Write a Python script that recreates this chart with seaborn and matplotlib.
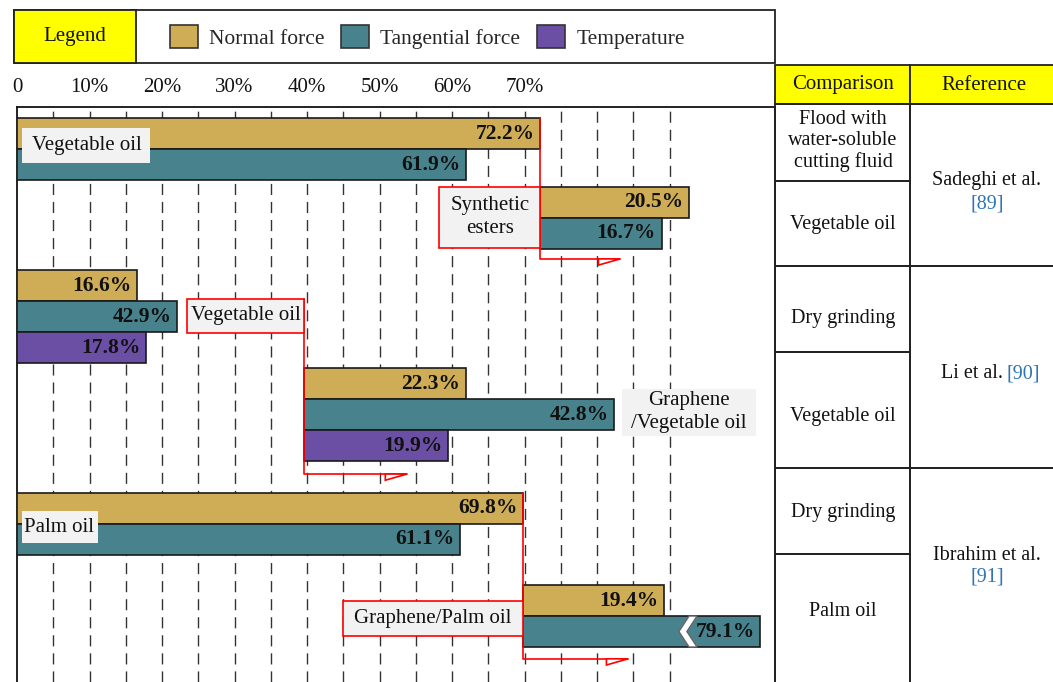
import matplotlib
matplotlib.use("Agg")
import matplotlib.pyplot as plt
from matplotlib.patches import Patch, Rectangle, Polygon
import numpy as np
import seaborn as sns

# ---- data (top to bottom, as in the figure) ----
series = ["Normal force", "Tangential force", "Normal force", "Tangential force",
          "Normal force", "Tangential force", "Temperature",
          "Normal force", "Tangential force", "Temperature",
          "Normal force", "Tangential force", "Normal force", "Tangential force"]
values = [72.2, 61.9, 20.5, 16.7, 16.6, 42.9, 17.8, 22.3, 42.8, 19.9, 69.8, 61.1, 19.4, 79.1]
# bar lengths as drawn: 42.9% is drawn short, 79.1% is a broken bar
drawn = list(values)
drawn[5] = 22.1
drawn[13] = 32.7
# the improved case starts where the baseline bar stops
starts = [0, 0, 72.2, 72.2, 0, 0, 0, 39.6, 39.6, 39.6, 0, 0, 69.8, 69.8]

tick_labels = ["0", "10%", "20%", "30%", "40%", "50%", "60%", "70%"]
comparison = ["Flood with\nwater-soluble\ncutting fluid", "Vegetable oil", "Dry grinding",
              "Vegetable oil", "Dry grinding", "Palm oil"]
ref_names = ["Sadeghi et al.", "Li et al.", "Ibrahim et al."]
ref_nums = ["[89]", "[90]", "[91]"]

palette = {"Normal force": "#CFAD56", "Tangential force": "#48828C", "Temperature": "#6A4FA5"}

sns.set_theme(style="white")
plt.rcParams['font.family'] = ['Liberation Serif', 'DejaVu Serif']

W, H = 1053, 682
fig = plt.figure(figsize=(W / 100, H / 100), dpi=100)

# main bar axes: 7.25 px per percent, 31 px per bar slot
ppp = 7.25
ax = fig.add_axes([17 / W, 0, (775 - 17) / W, (H - 107) / H])
ax.set_xlim(0, (775 - 17) / ppp)
ax.set_ylim((H - 107) / 31, 0)

rows = [0.86, 1.86, 3.08, 4.08, 5.76, 6.76, 7.76, 8.92, 9.92, 10.92, 12.95, 13.95, 15.92, 16.92]
colors = [palette[s] for s in series]
bars = ax.barh(rows, drawn, left=starts, height=1.0, color=colors,
               edgecolor="#1a1a1a", linewidth=1.2, zorder=3)
anns = ax.bar_label(bars, labels=[f"{v}%" for v in values], padding=-4,
                    fontsize=15.5, fontweight="bold", color="#111", zorder=6)
for a in anns:
    a.set_ha("right")

# axis / grid
ax.set_xticks(np.arange(0, 80, 10))
ax.set_xticklabels(tick_labels)
ax.set_xticks(np.arange(5, 95, 5), minor=True)
ax.xaxis.remove_overlapping_locs = False
ax.xaxis.tick_top()
ax.tick_params(axis="x", which="both", length=0, pad=7, labelsize=15, labelcolor="#111")
ax.set_yticks([])
ax.grid(True, which="minor", axis="x", color="#333", lw=1.0, ls=(0, (8, 5)), zorder=0)
for s in ["top", "left", "right"]:
    ax.spines[s].set_color("#111")
    ax.spines[s].set_linewidth(1.3)
ax.spines["bottom"].set_visible(False)


def box(x0, x1, y0, y1, text, red, tx, ty, ha="center"):
    ax.add_patch(Rectangle((x0, y0), x1 - x0, y1 - y0, fc="#F2F2F2",
                           ec="red" if red else "none", lw=1.2, zorder=5))
    ax.text(tx, ty, text, ha=ha, va="center", fontsize=15, linespacing=1.3,
            color="#111", zorder=6)


def connector(x, y_top, y_bot, x_end):
    ax.plot([x, x, x_end], [y_top, y_bot, y_bot], color="red", lw=1.2, zorder=4)
    ax.add_patch(Polygon([(x_end - 3, y_bot), (x_end, y_bot), (x_end - 3, y_bot + 0.2)],
                         closed=True, fc="white", ec="red", lw=1.2, zorder=4))


box(0.7, 18.3, 0.68, 1.81, "Vegetable oil", False, 2.0, 1.25, ha="left")
box(58.2, 72.2, 2.58, 4.55, "Synthetic\nesters", True, 65.2, 3.56)
connector(72.2, 0.355, 4.9, 83.2)

box(23.4, 39.6, 6.19, 7.29, "Vegetable oil", True, 31.5, 6.74)
connector(39.6, 6.19, 11.84, 53.8)
box(83.4, 101.9, 9.1, 10.6, "Graphene\n/Vegetable oil", False, 92.7, 9.85)

box(0.7, 11.2, 13.03, 14.06, "Palm oil", False, 1.0, 13.55, ha="left")
box(45.0, 69.8, 15.94, 17.06, "Graphene/Palm oil", True, 57.4, 16.5)
connector(69.8, 12.45, 17.8, 84.3)

# break mark on the 79.1% bar
xe = starts[13] + drawn[13]
y0, yc, y1 = rows[13] - 0.5, rows[13], rows[13] + 0.5
ax.add_patch(Polygon([(xe - 9.8, y0), (xe - 11.2, yc), (xe - 9.8, y1),
                      (xe - 8.7, y1), (xe - 10.1, yc), (xe - 8.7, y0)],
                     closed=True, fc="white", ec="#666", lw=1.0, zorder=5))

# ---- legend and table layer (pixel coordinates) ----
lay = fig.add_axes([0, 0, 1, 1], zorder=3)
lay.set_xlim(0, W)
lay.set_ylim(H, 0)
lay.axis("off")
lay.patch.set_visible(False)


def cell(x0, y0, x1, y1, fc="none"):
    lay.add_patch(Rectangle((x0, y0), x1 - x0, y1 - y0, fc=fc, ec="#222", lw=1.3))


cell(14, 10, 775, 63)
cell(14, 10, 136, 63, "#FFFF00")
lay.text(75, 36, "Legend", ha="center", va="center", fontsize=15, color="#111")
handles = [Patch(fc=palette[k], ec="#333", lw=1.2) for k in palette]
fig.legend(handles, list(palette), ncol=3, loc="center left",
           bbox_to_anchor=(170 / W, 1 - 37 / H), frameon=False, fontsize=15.5,
           handlelength=1.3, handleheight=1.3, handletextpad=0.5,
           columnspacing=0.8, borderpad=0, borderaxespad=0)

cell(775, 65, 910, 104, "#FFFF00")
cell(910, 65, 1060, 104, "#FFFF00")
lay.text(843, 85, "Comparison", ha="center", va="center", fontsize=15, color="#111")
lay.text(984, 85, "Reference", ha="center", va="center", fontsize=15, color="#111")

comp_edges = [104, 181, 266, 352, 468, 554, 690]
comp_text_y = [141, 224, 318, 416, 512, 611]
for i, txt in enumerate(comparison):
    cell(775, comp_edges[i], 910, comp_edges[i + 1])
    lay.text(843, comp_text_y[i], txt, ha="center", va="center", fontsize=14.5,
             linespacing=1.15, color="#111")

ref_edges = [104, 266, 468, 690]
for i in range(3):
    cell(910, ref_edges[i], 1060, ref_edges[i + 1])
lay.text(987, 180, ref_names[0], ha="center", va="center", fontsize=14.5, color="#111")
lay.text(987, 204, ref_nums[0], ha="center", va="center", fontsize=14.5, color="#2E75B6")
lay.text(1003, 374, ref_names[1], ha="right", va="center", fontsize=14.5, color="#111")
lay.text(1006, 374, ref_nums[1], ha="left", va="center", fontsize=14.5, color="#2E75B6")
lay.text(987, 555, ref_names[2], ha="center", va="center", fontsize=14.5, color="#111")
lay.text(987, 577, ref_nums[2], ha="center", va="center", fontsize=14.5, color="#2E75B6")

fig.savefig("out.png", dpi=100)
